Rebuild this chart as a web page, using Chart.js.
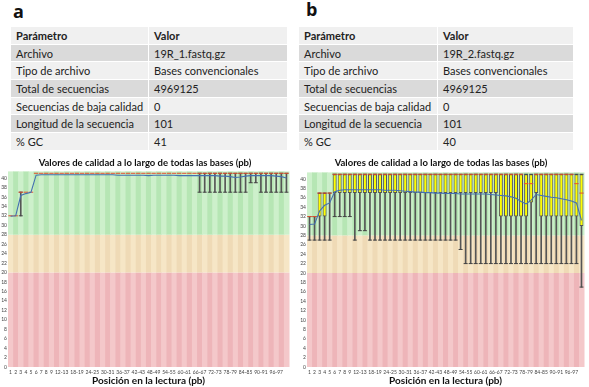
<!DOCTYPE html>
<html>
<head>
<meta charset="utf-8">
<script src="https://cdn.jsdelivr.net/npm/chart.js@4.4.1/dist/chart.umd.min.js"></script>
<style>
    body { margin: 0; width: 589px; height: 387px; background: #fff; position: relative; overflow: hidden; font-family: Lato, 'Open Sans', sans-serif; }
    .tag { position: absolute; font: bold 18px 'Open Sans', sans-serif; color: #111; }
    table.info { position: absolute; top: 26px; border-collapse: collapse; font-size: 11px; color: #222; table-layout: fixed; }
    table.info td { height: 17.7px; padding: 0 0 0 5px; border: 1px solid #fff; box-sizing: border-box; white-space: nowrap; }
    table.info tr.head td { font-weight: bold; background: #f0f0f0; }
    table.info tr.dark td { background: #dadada; }
    table.info tr.light td { background: #f0f0f0; }
    canvas { position: absolute; top: 155px; }
</style>
</head>
<body>
<div class="tag" style="left:13px;top:-1px">a</div>
<div class="tag" style="left:306px;top:-3px">b</div>
<table class="info" id="tableA" style="left:10px;width:278px"><colgroup><col style="width:138px"><col></colgroup></table>
<table class="info" id="tableB" style="left:298px;width:276px"><colgroup><col style="width:139px"><col></colgroup></table>
<canvas id="chartA" width="294" height="232" style="left:0px"></canvas>
<canvas id="chartB" width="294" height="232" style="left:295px"></canvas>
<script>
// table content
const tableHeader = ['Parámetro', 'Valor'];
const tableParams = ['Archivo', 'Tipo de archivo', 'Total de secuencias', 'Secuencias de baja calidad', 'Longitud de la secuencia', '% GC'];
const tableValuesA = ['19R_1.fastq.gz', 'Bases convencionales', '4969125', '0', '101', '41'];
const tableValuesB = ['19R_2.fastq.gz', 'Bases convencionales', '4969125', '0', '101', '40'];

// x categories (FastQC groups bases after position 9)
const categories = ['1', '2', '3', '4', '5', '6', '7', '8', '9',
    '10-11', '12-13', '14-15', '16-17', '18-19', '20-21', '22-23', '24-25', '26-27', '28-29',
    '30-31', '32-33', '34-35', '36-37', '38-39', '40-41', '42-43', '44-45', '46-47', '48-49',
    '50-51', '52-53', '54-55', '56-57', '58-59', '60-61', '62-63', '64-65', '66-67', '68-69',
    '70-71', '72-73', '74-75', '76-77', '78-79', '80-81', '82-83', '84-85', '86-87', '88-89',
    '90-91', '92-93', '94-95', '96-97', '98-99', '100-101'];

// panel a - 19R_1
const meanA = [31.9, 32.0, 36.3, 36.7, 37.0, 40.6, 40.7, 40.7, 40.7, 40.7,
    40.7, 40.7, 40.7, 40.7, 40.7, 40.7, 40.7, 40.7, 40.7, 40.7,
    40.7, 40.6, 40.6, 40.6, 40.6, 40.6, 40.6, 40.5, 40.6, 40.6,
    40.6, 40.6, 40.6, 40.5, 40.5, 40.5, 40.5, 40.5, 40.5, 40.5,
    40.5, 40.4, 40.4, 40.3, 40.1, 40.2, 40.4, 40.5, 40.5, 40.5,
    40.5, 40.5, 40.4, 40.3, 40.0];
const medianA = [32, 32, 37, 37, 37, 41, 41, 41, 41, 41, 41, 41, 41, 41, 41, 41, 41, 41, 41, 41,
    41, 41, 41, 41, 41, 41, 41, 41, 41, 41, 41, 41, 41, 41, 41, 41, 41, 41, 41, 41,
    41, 41, 41, 41, 41, 41, 41, 41, 41, 41, 41, 41, 41, 41, 41];
const q1A = [32, 32, 37, 37, 37, 41, 41, 41, 41, 41, 41, 41, 41, 41, 41, 41, 41, 41, 41, 41,
    41, 41, 41, 41, 41, 41, 41, 41, 41, 41, 41, 41, 41, 41, 41, 41, 41, 41, 41, 41,
    41, 41, 41, 41, 41, 41, 41, 41, 41, 41, 41, 41, 41, 41, 41];
const q3A = [32, 32, 37, 37, 37, 41, 41, 41, 41, 41, 41, 41, 41, 41, 41, 41, 41, 41, 41, 41,
    41, 41, 41, 41, 41, 41, 41, 41, 41, 41, 41, 41, 41, 41, 41, 41, 41, 41, 41, 41,
    41, 41, 41, 41, 41, 41, 41, 41, 41, 41, 41, 41, 41, 41, 41];
const p10A = [32, 32, 32, 37, 37, 41, 41, 41, 41, 41, 41, 41, 41, 41, 41, 41, 41, 41, 41, 41,
    41, 41, 41, 41, 41, 41, 41, 41, 41, 41, 41, 41, 41, 41, 41, 41, 41, 37, 37, 37,
    37, 37, 37, 37, 37, 37, 37, 39, 39, 37, 37, 37, 37, 37, 37];
const p90A = [32, 32, 37, 37, 37, 41, 41, 41, 41, 41, 41, 41, 41, 41, 41, 41, 41, 41, 41, 41,
    41, 41, 41, 41, 41, 41, 41, 41, 41, 41, 41, 41, 41, 41, 41, 41, 41, 41, 41, 41,
    41, 41, 41, 41, 41, 41, 41, 41, 41, 41, 41, 41, 41, 41, 41];

// panel b - 19R_2
const meanB = [30.3, 30.4, 33.2, 34.4, 34.9, 37.3, 37.6, 37.7, 37.7, 37.7,
    37.7, 37.7, 37.7, 37.7, 37.7, 37.6, 37.6, 37.6, 37.5, 37.4,
    37.3, 37.2, 37.2, 37.1, 37.1, 37.0, 37.0, 36.9, 36.9, 36.9,
    36.8, 36.8, 36.8, 36.8, 36.8, 36.8, 36.7, 36.6, 36.5, 36.4,
    36.2, 35.9, 35.2, 34.7, 35.5, 36.7, 36.5, 36.3, 36.1, 36.0,
    35.8, 35.6, 35.3, 34.9, 31.2];
const medianB = [32, 32, 37, 37, 37, 41, 41, 41, 41, 41, 41, 41, 41, 41, 41, 41, 41, 41, 41, 41,
    41, 41, 41, 41, 41, 41, 41, 41, 41, 41, 41, 41, 41, 41, 41, 41, 41, 41, 41, 41,
    41, 41, 41, 39, 39, 41, 41, 41, 41, 41, 41, 41, 41, 39, 37];
const q1B = [32, 32, 32, 32, 37, 37, 37, 37, 37, 37, 37, 37, 37, 37, 37, 37, 37, 37, 37, 37,
    37, 37, 37, 37, 37, 37, 37, 37, 37, 37, 37, 37, 37, 37, 37, 37, 37, 37, 32, 32,
    32, 32, 32, 32, 35, 37, 32, 32, 32, 32, 32, 32, 32, 32, 30];
const q3B = [32, 32, 37, 37, 37, 41, 41, 41, 41, 41, 41, 41, 41, 41, 41, 41, 41, 41, 41, 41,
    41, 41, 41, 41, 41, 41, 41, 41, 41, 41, 41, 41, 41, 41, 41, 41, 41, 41, 41, 41,
    41, 41, 41, 41, 41, 41, 41, 41, 41, 41, 41, 41, 41, 41, 41];
const p10B = [27, 27, 27, 27, 27, 32, 32, 32, 32, 27, 29, 29, 27, 27, 27, 27, 27, 27, 27, 27,
    27, 27, 27, 27, 27, 27, 27, 27, 27, 27, 25, 22, 22, 22, 22, 22, 22, 22, 22, 22,
    22, 22, 22, 22, 22, 22, 22, 22, 22, 22, 22, 22, 22, 22, 17];
const p90B = [32, 32, 37, 37, 37, 41, 41, 41, 41, 41, 41, 41, 41, 41, 41, 41, 41, 41, 41, 41,
    41, 41, 41, 41, 41, 41, 41, 41, 41, 41, 41, 41, 41, 41, 41, 41, 41, 41, 41, 41,
    41, 41, 41, 41, 41, 41, 41, 41, 41, 41, 41, 41, 41, 41, 41];

// FastQC quality zones (from, to, stripe colours)
const zones = [
    { from: 0, to: 20, light: '#f4c8ca', dark: '#eeb5b9' },
    { from: 20, to: 28, light: '#f6e6c6', dark: '#efdab6' },
    { from: 28, to: 99, light: '#cdf0cb', dark: '#b6e6b4' }
];

const titleFont = { family: 'Lato', size: 9.5, weight: 'bold' };

function fillTable(id, values) {
    const table = document.getElementById(id);
    let html = '<tr class="head"><td>' + tableHeader[0] + '</td><td>' + tableHeader[1] + '</td></tr>';
    tableParams.forEach((p, i) => {
        html += '<tr class="' + (i % 2 === 0 ? 'dark' : 'light') + '"><td>' + p + '</td><td>' + values[i] + '</td></tr>';
    });
    table.insertAdjacentHTML('beforeend', html);
}

// alternating stripes in each quality band
const zonePlugin = {
    id: 'zones',
    beforeDatasetsDraw(chart) {
        const { ctx, chartArea: area, scales: { x, y } } = chart;
        const n = categories.length;
        const step = (area.right - area.left) / n;
        ctx.save();
        zones.forEach(z => {
            const top = y.getPixelForValue(Math.min(z.to, y.max));
            const bottom = y.getPixelForValue(z.from);
            for (let i = 0; i < n; i++) {
                ctx.fillStyle = i % 2 === 0 ? z.light : z.dark;
                const x0 = x.getPixelForValue(i) - step / 2;
                ctx.fillRect(x0, top, step + 0.5, bottom - top);
            }
        });
        ctx.restore();
    }
};

function showTick(i) {
    return i < 9 || (i >= 10 && (i - 10) % 3 === 0);
}

function createQualityChart(canvasId, s, yWidth, padRight, titlePad) {
    const boxes = s.q1.map((v, i) => v === s.q3[i] ? null : [v, s.q3[i]]);
    const whiskers = s.p10.map((v, i) => v === s.p90[i] ? null : [v, s.p90[i]]);
    const capsLow = s.p10.map((v, i) => v === s.p90[i] ? null : v);
    const capsHigh = s.p90.map((v, i) => v === s.p10[i] ? null : v);

    const ctx = document.getElementById(canvasId).getContext('2d');
    return new Chart(ctx, {
        type: 'bar',
        data: {
            labels: categories,
            datasets: [
                {
                    type: 'line', label: 'mean', data: s.mean,
                    borderColor: '#4470b0', borderWidth: 1.1, pointRadius: 0, tension: 0, order: -2
                },
                {
                    type: 'line', label: 'median', data: s.median, showLine: false,
                    pointStyle: 'line', pointRadius: 2.2, pointBorderColor: '#e4502e', pointBorderWidth: 1, order: -1
                },
                {
                    type: 'line', label: 'p10', data: capsLow, showLine: false,
                    pointStyle: 'line', pointRadius: 2, pointBorderColor: '#444', pointBorderWidth: 1, order: 0
                },
                {
                    type: 'line', label: 'p90', data: capsHigh, showLine: false,
                    pointStyle: 'line', pointRadius: 2, pointBorderColor: '#444', pointBorderWidth: 1, order: 0
                },
                {
                    label: 'box', data: boxes, backgroundColor: '#ffff00', borderColor: '#555',
                    borderWidth: 1, borderSkipped: false, barPercentage: 0.78, categoryPercentage: 1,
                    grouped: false, order: 1
                },
                {
                    label: 'whisker', data: whiskers, backgroundColor: '#555', barThickness: 1,
                    grouped: false, order: 2
                }
            ]
        },
        options: {
            responsive: false,
            animation: false,
            devicePixelRatio: 1,
            layout: { padding: { left: 0, right: padRight, top: 0, bottom: 0 } },
            plugins: {
                legend: { display: false },
                tooltip: { enabled: false },
                title: {
                    display: true,
                    text: 'Valores de calidad a lo largo de todas las bases (pb)',
                    font: titleFont, color: '#111',
                    padding: titlePad
                }
            },
            scales: {
                x: {
                    grid: { display: false, drawTicks: false },
                    border: { display: false },
                    ticks: {
                        autoSkip: false, maxRotation: 0, minRotation: 0,
                        font: { family: 'Lato', size: 5 }, color: '#444', padding: 2,
                        callback: (value, index) => showTick(index) ? categories[index] : ''
                    },
                    title: {
                        display: true, text: 'Posición en la lectura (pb)',
                        font: { family: 'Lato', size: 10, weight: 'bold' }, color: '#111',
                        padding: { top: 0, bottom: 0 }
                    },
                    afterFit: scale => { scale.height = 20; }
                },
                y: {
                    min: 0, max: 41.4,
                    grid: { display: false, drawTicks: false },
                    border: { display: false },
                    ticks: { stepSize: 2, font: { family: 'Lato', size: 5 }, color: '#444', padding: 1 },
                    afterBuildTicks: scale => { scale.ticks = scale.ticks.filter(t => t.value % 2 === 0); },
                    afterFit: scale => { scale.width = yWidth; }
                }
            }
        },
        plugins: [zonePlugin]
    });
}

fillTable('tableA', tableValuesA);
fillTable('tableB', tableValuesB);

createQualityChart('chartA', { mean: meanA, median: medianA, q1: q1A, q3: q3A, p10: p10A, p90: p90A }, 8, 4, { top: 2, bottom: 3 });
createQualityChart('chartB', { mean: meanB, median: medianB, q1: q1B, q3: q3B, p10: p10B, p90: p90B }, 12, 2, { top: 2, bottom: 4 });
</script>
</body>
</html>
